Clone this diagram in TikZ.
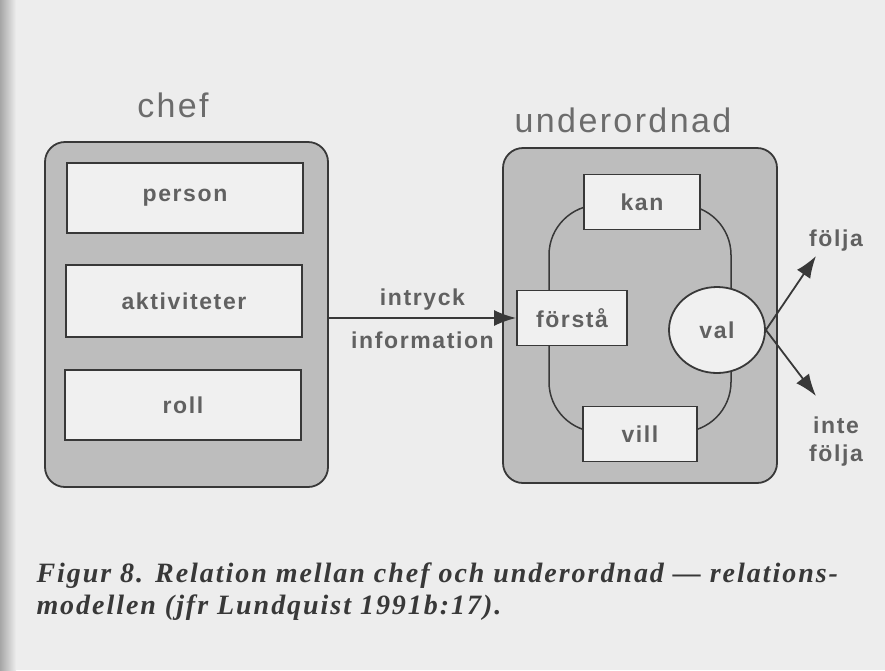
\documentclass[tikz,border=0pt]{standalone}
\usepackage{fontspec}
\setmainfont{Liberation Sans}
\newfontfamily\labelfont[LetterSpace=7]{Liberation Sans}
\newfontfamily\capfont[LetterSpace=7]{Liberation Serif}
\usetikzlibrary{positioning}
\usetikzlibrary{arrows.meta}
\usetikzlibrary{shapes.geometric}
\definecolor{paper}{gray}{0.93}
\definecolor{panelgray}{gray}{0.74}
\definecolor{boxgray}{gray}{0.94}
\definecolor{ink}{gray}{0.22}
\definecolor{soft}{gray}{0.38}

\begin{document}
\begin{tikzpicture}
    [x=1pt, y=-1pt,
      every node/.style={text=soft, font=\labelfont\bfseries\fontsize{23}{27}\selectfont},
      panel/.style={draw=ink, line width=1.8pt, fill=panelgray, rounded corners=20pt},
      part/.style={draw=ink, line width=1.8pt, fill=boxgray, inner sep=0pt},
      title/.style={font=\labelfont\fontsize{34}{38}\selectfont, text=gray!85!black},
      caption/.style={anchor=west, text=ink, font=\capfont\bfseries\itshape\fontsize{28}{32}\selectfont},
      link/.style={draw=ink, line width=1.8pt, -{Latex[length=22pt,width=16pt]}},
     ]
    \useasboundingbox (0,0) rectangle (885,670);
    \fill[paper] (0,0) rectangle (885,670);
    \shade[left color=gray!70, right color=paper] (0,0) rectangle (16,670);

    % chef
    \node[panel, minimum width=283, minimum height=345] (chef) at (186.5,314.5) {};
    \node[title] (cheflabel) at (173,105) {chef};
    \node[part, minimum width=236, minimum height=70] (person) at (185,198) {person};
    \node[part, minimum width=236, minimum height=72] (aktiv) at (184,301) {aktiviteter};
    \node[part, minimum width=236, minimum height=70] (roll) at (183,405) {roll};

    % underordnad
    \node[panel, minimum width=274, minimum height=335] (under) at (640,315.5) {};
    \node[title] (underlabel) at (623,120) {underordnad};
    \draw[ink, line width=1.5pt, rounded corners=50pt] (549,205) rectangle (731,432);
    \node[part, minimum width=116, minimum height=55] (kan) at (642,202) {kan};
    \node[part, minimum width=114, minimum height=55] (vill) at (640,434) {vill};
    \node[part, minimum width=110, minimum height=55] (forsta) at (572,318) {förstå};
    \node[part, ellipse, minimum width=96, minimum height=86] (val) at (717,330) {val};

    % intryck
    \draw[link] (chef.east |- forsta.west) -- (forsta.west)
      node[midway, above=4pt] (intryck) {intryck}
      node[midway, below=10pt] (info) {information};

    % val
    \node (folja) at (836,241) {följa};
    \node[align=center, font=\labelfont\bfseries\fontsize{23}{28}\selectfont] (inte) at (836,442) {inte\\följa};
    \coordinate (uptip) at (816,256);
    \coordinate (downtip) at (816,396);
    \draw[link] (val.east) -- (uptip);
    \draw[link] (val.east) -- (downtip);

    % caption
    \node[caption] (cap1) at (33,576) {Figur 8. Relation mellan chef och underordnad — relations-};
    \node[caption] (cap2) at (33,608) {modellen (jfr Lundquist 1991b:17).};
    \end{tikzpicture}
\end{document}
